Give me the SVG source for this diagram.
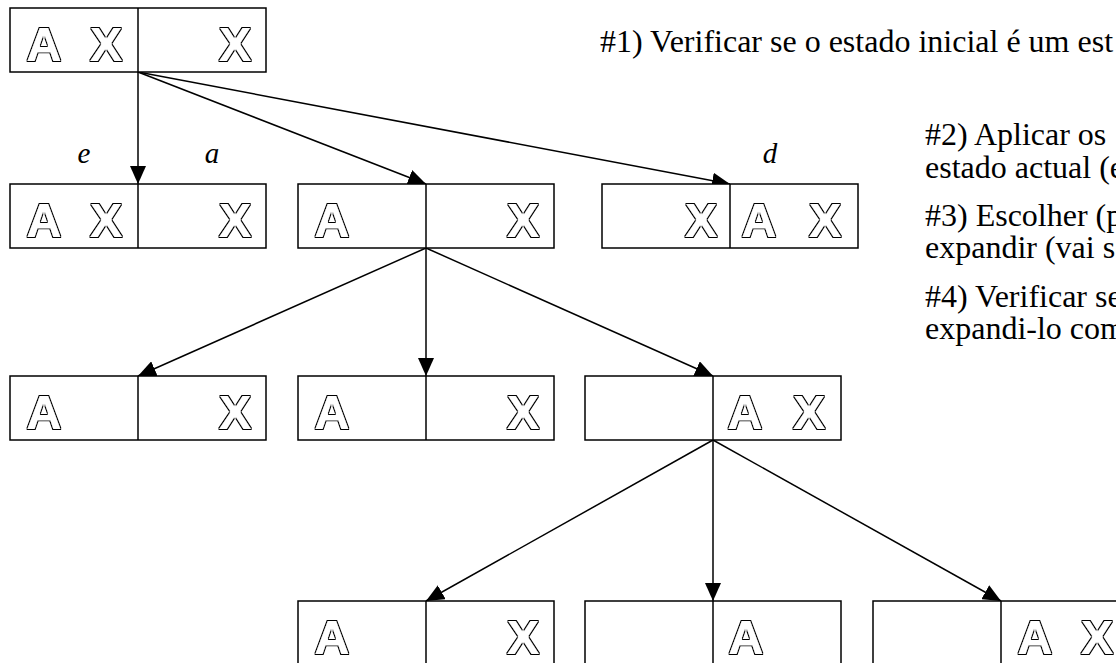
<svg xmlns="http://www.w3.org/2000/svg" width="1116" height="663" viewBox="0 0 1116 663">
  <style>
    .box { fill: #fff; stroke: #000; stroke-width: 1.5; }
    .div { stroke: #000; stroke-width: 1.5; }
    .g { font-family: "Liberation Sans", Arial, sans-serif; font-weight: bold; font-size: 49px; fill: #000; text-anchor: middle; filter: url(#hollow); }
    .edge { stroke: #000; stroke-width: 1.5; fill: none; marker-end: url(#arrow); }
    .lbl { font-family: "Liberation Serif", "Times New Roman", serif; font-style: italic; font-size: 29px; fill: #000; text-anchor: middle; }
    .txt { font-family: "Liberation Serif", "Times New Roman", serif; font-size: 32px; fill: #000; }
  </style>
  <defs>
    <marker id="arrow" markerUnits="userSpaceOnUse" markerWidth="18" markerHeight="16" refX="18" refY="8" orient="auto">
      <path d="M0,0 L18,8 L0,16 z" fill="#000"/>
    </marker>
    <!-- hollow heavy lettering: glyph is thickened, then drawn as white with a thin black rim -->
    <filter id="hollow" x="-20%" y="-20%" width="140%" height="140%">
      <feMorphology in="SourceAlpha" operator="dilate" radius="1.2" result="fat"/>
      <feMorphology in="fat" operator="erode" radius="1.3" result="core"/>
      <feFlood flood-color="#000" result="ink"/>
      <feComposite in="ink" in2="fat" operator="in" result="rim"/>
      <feFlood flood-color="#fff" result="paper"/>
      <feComposite in="paper" in2="core" operator="in" result="fill"/>
      <feMerge>
        <feMergeNode in="rim"/>
        <feMergeNode in="fill"/>
      </feMerge>
    </filter>
    <!-- two-compartment state cell: 256 x 64, divider in the middle -->
    <g id="cell">
      <rect class="box" x="0" y="0" width="256" height="64"/>
      <line class="div" x1="128" y1="0" x2="128" y2="64"/>
    </g>
  </defs>

  <!-- connectors -->
  <g id="connectors">
    <line class="edge" x1="138" y1="72" x2="138" y2="184"/>
    <line class="edge" x1="138" y1="72" x2="426" y2="184"/>
    <line class="edge" x1="138" y1="72" x2="730" y2="184"/>
    <line class="edge" x1="426" y1="248" x2="138" y2="376"/>
    <line class="edge" x1="426" y1="248" x2="426" y2="376"/>
    <line class="edge" x1="426" y1="248" x2="713" y2="376"/>
    <line class="edge" x1="713" y1="440" x2="426" y2="601"/>
    <line class="edge" x1="713" y1="440" x2="713" y2="601"/>
    <line class="edge" x1="713" y1="440" x2="1001" y2="601"/>
  </g>

  <!-- action labels -->
  <g id="labels">
    <text class="lbl" x="84" y="163">e</text>
    <text class="lbl" x="212" y="163">a</text>
    <text class="lbl" x="770" y="163">d</text>
  </g>

  <!-- root -->
  <g id="n0" transform="translate(10,8)">
    <use href="#cell"/>
    <text class="g" x="34" y="53">A</text>
    <text class="g" x="96" y="53">X</text>
    <text class="g" x="225" y="53">X</text>
  </g>

  <!-- level 1 -->
  <g id="n1" transform="translate(10,184)">
    <use href="#cell"/>
    <text class="g" x="34" y="53">A</text>
    <text class="g" x="96" y="53">X</text>
    <text class="g" x="225" y="53">X</text>
  </g>
  <g id="n2" transform="translate(298,184)">
    <use href="#cell"/>
    <text class="g" x="34" y="53">A</text>
    <text class="g" x="225" y="53">X</text>
  </g>
  <g id="n3" transform="translate(602,184)">
    <use href="#cell"/>
    <text class="g" x="99" y="53">X</text>
    <text class="g" x="157" y="53">A</text>
    <text class="g" x="223" y="53">X</text>
  </g>

  <!-- level 2 -->
  <g id="n4" transform="translate(10,376)">
    <use href="#cell"/>
    <text class="g" x="34" y="53">A</text>
    <text class="g" x="225" y="53">X</text>
  </g>
  <g id="n5" transform="translate(298,376)">
    <use href="#cell"/>
    <text class="g" x="34" y="53">A</text>
    <text class="g" x="225" y="53">X</text>
  </g>
  <g id="n6" transform="translate(585,376)">
    <use href="#cell"/>
    <text class="g" x="160" y="53">A</text>
    <text class="g" x="224" y="53">X</text>
  </g>

  <!-- level 3 -->
  <g id="n7" transform="translate(298,601)">
    <use href="#cell"/>
    <text class="g" x="34" y="53">A</text>
    <text class="g" x="225" y="53">X</text>
  </g>
  <g id="n8" transform="translate(585,601)">
    <use href="#cell"/>
    <text class="g" x="161" y="53">A</text>
  </g>
  <g id="n9" transform="translate(873,601)">
    <use href="#cell"/>
    <text class="g" x="162" y="53">A</text>
    <text class="g" x="224" y="53">X</text>
  </g>

  <!-- procedure notes -->
  <g id="notes" class="txt">
    <text x="600" y="52">#1) Verificar se o estado inicial é um est</text>
    <text x="925" y="145">#2) Aplicar os</text>
    <text x="925" y="178">estado actual (e</text>
    <text x="925" y="226">#3) Escolher (p</text>
    <text x="925" y="258">expandir (vai se</text>
    <text x="925" y="307">#4) Verificar se</text>
    <text x="925" y="339">expandi-lo com</text>
  </g>
</svg>
